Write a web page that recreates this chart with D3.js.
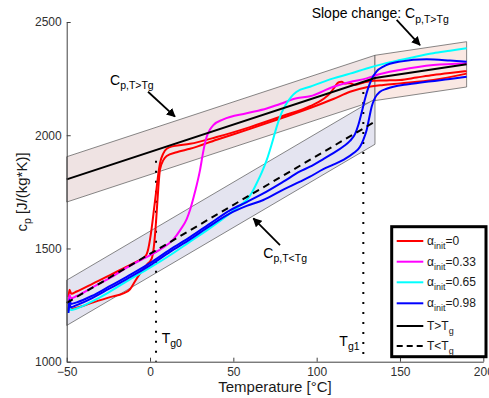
<!DOCTYPE html>
<html>
<head>
<meta charset="utf-8">
<script src="https://cdn.jsdelivr.net/npm/d3@7"></script>
<style>
  body { margin: 0; background: #fff; }
  svg { font-family: "Liberation Sans", Arial, sans-serif; }
</style>
</head>
<body>
<div id="chart"></div>
<script>
// measured curves [T, cp]
var red1 = [[-49,1285],[-48.3,1318],[-47.3,1300],[-44,1310],[-34,1346],[-24,1382],[-14,1420],[-8,1442],[-4,1458],[-2,1475],[-1,1500],[0,1540],[1,1590],[2.5,1680],[4,1770],[5,1830],[6,1877],[8,1920],[10,1940],[14,1952],[24,1962],[40,1992],[60,2036],[80,2086],[96,2128],[104,2160],[108,2185],[111,2215],[113,2233],[115,2236],[117,2228],[120,2230],[123,2222],[128,2232],[134,2241],[142,2242],[150,2244],[160,2255],[170,2266],[180,2275],[190,2283]];
var red2 = [[-49,1240],[-48,1232],[-44,1238],[-34,1262],[-24,1285],[-16,1302],[-12,1320],[-9,1355],[-5,1400],[-2,1428],[1,1455],[2,1490],[3,1560],[4,1660],[5,1770],[6,1850],[8,1890],[10,1908],[16,1925],[24,1940],[40,1980],[60,2028],[80,2078],[96,2120],[110,2160],[120,2192],[130,2212],[140,2222],[150,2229],[170,2244],[190,2272]];
var magenta = [[-49,1260],[-48.3,1295],[-47.5,1280],[-44,1290],[-34,1330],[-24,1370],[-14,1415],[-4,1455],[6,1495],[14,1540],[18,1580],[22,1630],[24,1670],[27,1750],[30,1846],[32,1930],[34,1993],[36,2025],[38,2045],[44,2070],[58,2097],[70,2118],[78,2138],[88,2163],[96,2172],[110,2214],[120,2235],[130,2251],[136,2266],[150,2288],[170,2310],[190,2317]];
var cyan = [[-49,1215],[-48.3,1245],[-47.5,1228],[-44,1235],[-35,1265],[-25,1305],[-14,1355],[0,1415],[12,1470],[24,1530],[36,1590],[48,1655],[54,1690],[58,1714],[61,1745],[64,1788],[67,1835],[70,1890],[73,1960],[76,2037],[79,2100],[82,2141],[85,2172],[88,2192],[96,2214],[110,2251],[120,2272],[130,2295],[140,2315],[150,2332],[160,2348],[170,2362],[180,2373],[190,2384]];
var blue1 = [[-49,1225],[-48.3,1275],[-47.5,1255],[-44,1262],[-35,1290],[-25,1330],[-14,1375],[0,1435],[12,1495],[24,1550],[36,1610],[48,1668],[58,1705],[68,1743],[80,1795],[90,1840],[96,1861],[104,1895],[110,1921],[116,1950],[120,1975],[123,2005],[125,2045],[127,2100],[129,2160],[131,2210],[133,2248],[136,2282],[140,2303],[150,2325],[166,2335],[180,2330],[190,2325]];
var blue2 = [[-49,1215],[-48.3,1255],[-47.5,1240],[-44,1250],[-35,1280],[-25,1320],[-14,1365],[0,1425],[12,1485],[24,1540],[36,1600],[48,1655],[58,1688],[68,1714],[80,1760],[90,1795],[96,1817],[104,1850],[110,1870],[116,1891],[122,1920],[126,1949],[128,1980],[130,2023],[131.5,2075],[133,2126],[135,2165],[138,2192],[142,2205],[146,2214],[155,2225],[166,2236],[180,2248],[190,2258]];

// fitted lines
var fitAbove = [[-50,1805],[135,2253]];
var fitSlope = [[135,2253],[190,2313]];
var fitBelow = [[-50,1260],[135,2060]];
var bandHalf = 100;

var tg = [3.6, 128];
var tgTop = [1887, 2191];
var tgNames = ["g0", "g1"];

var xTicks = [-50, 0, 50, 100, 150, 200];
var yTicks = [1000, 1500, 2000, 2500];

var legendColors = ["#ff0000", "#ff00ff", "#00ffff", "#0000ff", "#000000", "#000000"];
var legendMain = ["\u03b1", "\u03b1", "\u03b1", "\u03b1", "T>T", "T<T"];
var legendSub = ["init", "init", "init", "init", "g", "g"];
var legendTail = ["=0", "=0.33", "=0.65", "=0.98", "", ""];

var width = 489, height = 398;

var x = d3.scaleLinear().domain([-50, 200]).range([66.7, 483.3]);
var y = d3.scaleLinear().domain([1000, 2500]).range([361.7, 22]);

var svg = d3.select("#chart").append("svg")
    .attr("width", width)
    .attr("height", height);

var line = d3.line()
    .x(function (d) { return x(d[0]); })
    .y(function (d) { return y(d[1]); });
var smooth = d3.line()
    .x(function (d) { return x(d[0]); })
    .y(function (d) { return y(d[1]); })
    .curve(d3.curveMonotoneX);

function band(seg) {
    var a = seg[0], b = seg[1];
    return [[a[0], a[1] + bandHalf], [b[0], b[1] + bandHalf], [b[0], b[1] - bandHalf], [a[0], a[1] - bandHalf]];
}

// bands
svg.append("path").attr("d", line(band(fitAbove)) + "Z")
    .attr("fill", "#efe3e3").attr("stroke", "#555").attr("stroke-width", 0.7);
svg.append("path").attr("d", line(band(fitSlope)) + "Z")
    .attr("fill", "#fae8e3").attr("stroke", "#555").attr("stroke-width", 0.7);
svg.append("path").attr("d", line(band(fitBelow)) + "Z")
    .attr("fill", "#e4e4f0").attr("stroke", "#555").attr("stroke-width", 0.7);

// Tg dotted lines
tg.forEach(function (t, i) {
    svg.append("line")
        .attr("x1", x(t)).attr("x2", x(t))
        .attr("y1", y(tgTop[i])).attr("y2", y(1000))
        .attr("stroke", "#000").attr("stroke-width", 2)
        .attr("stroke-dasharray", "2,8");
});

// measured curves
var curves = [[red2, "#ff0000"], [red1, "#ff0000"], [magenta, "#ff00ff"], [cyan, "#00ffff"], [blue2, "#0000ff"], [blue1, "#0000ff"]];
curves.forEach(function (c) {
    svg.append("path").attr("d", smooth(c[0]))
        .attr("fill", "none").attr("stroke", c[1]).attr("stroke-width", 2);
});

// fit lines
svg.append("path").attr("d", line(fitAbove.concat([fitSlope[1]])))
    .attr("fill", "none").attr("stroke", "#000").attr("stroke-width", 2);
svg.append("path").attr("d", line(fitBelow))
    .attr("fill", "none").attr("stroke", "#000").attr("stroke-width", 2)
    .attr("stroke-dasharray", "7,5");

// axes
var fmt = d3.format("d");
var yAxis = d3.axisLeft(y).tickValues(yTicks).tickFormat(fmt).tickSizeInner(-4).tickSizeOuter(0).tickPadding(5);
var xAxis = d3.axisBottom(x).tickValues(xTicks).tickFormat(fmt).tickSizeInner(-4).tickSizeOuter(0).tickPadding(6);
var gy = svg.append("g").attr("transform", "translate(" + x(-50) + ",0)").call(yAxis);
var gx = svg.append("g").attr("transform", "translate(0," + y(1000) + ")").call(xAxis);
[gx, gy].forEach(function (g) {
    g.selectAll("path, line").attr("stroke", "#404040");
    g.selectAll("text").attr("font-size", 12).attr("fill", "#303030")
        .attr("font-family", "Liberation Sans, Arial, sans-serif");
});

// axis labels
svg.append("text").attr("x", 275).attr("y", 392).attr("text-anchor", "middle")
    .attr("font-size", 15).attr("fill", "#1a1a1a").text("Temperature [\u00b0C]");
var yl = svg.append("text").attr("transform", "translate(27,192) rotate(-90)")
    .attr("text-anchor", "middle").attr("font-size", 15).attr("fill", "#1a1a1a");
yl.append("tspan").text("c");
yl.append("tspan").attr("font-size", 10.5).attr("dy", 4).text("p");
yl.append("tspan").attr("dy", -4).text(" [J/(kg*K)]");

// annotations
function subText(px, py, main, sub, size, subSize) {
    var t = svg.append("text").attr("x", px).attr("y", py)
        .attr("font-size", size).attr("fill", "#000");
    t.append("tspan").text(main);
    t.append("tspan").attr("font-size", subSize).attr("dy", size * 0.3).text(sub);
    return t;
}
subText(x(-24), y(2222), "C", "p,T>Tg", 14, 10.5);
subText(x(97), y(2516), "Slope change: C", "p,T>Tg", 14, 10.5);
subText(x(68), y(1457), "C", "p,T<Tg", 14, 10.5);
subText(x(7), y(1083), "T", tgNames[0], 14, 10.5);
subText(x(113.6), y(1069), "T", tgNames[1], 14, 10.5);

svg.append("defs").append("marker")
    .attr("id", "ah").attr("viewBox", "0 0 10 10").attr("refX", 9).attr("refY", 5)
    .attr("markerWidth", 5).attr("markerHeight", 5).attr("orient", "auto")
    .append("path").attr("d", "M0,0L10,5L0,10Z").attr("fill", "#000");

var arrows = [[[-1.2, 2192], [15, 2082]], [[148, 2509], [162, 2398]], [[78, 1515], [62, 1633]]];
arrows.forEach(function (a) {
    svg.append("line")
        .attr("x1", x(a[0][0])).attr("y1", y(a[0][1]))
        .attr("x2", x(a[1][0])).attr("y2", y(a[1][1]))
        .attr("stroke", "#000").attr("stroke-width", 1.8)
        .attr("marker-end", "url(#ah)");
});

// legend
var lg = svg.append("g");
lg.append("rect").attr("x", 391.7).attr("y", 226.7).attr("width", 94.3).attr("height", 130)
    .attr("fill", "#fff").attr("stroke", "#000").attr("stroke-width", 3);
var rowY = [241, 261.7, 282.3, 303.3, 326, 346];
legendColors.forEach(function (c, i) {
    lg.append("line").attr("x1", 396.7).attr("x2", 423.3)
        .attr("y1", rowY[i]).attr("y2", rowY[i])
        .attr("stroke", c).attr("stroke-width", 2)
        .attr("stroke-dasharray", i === 5 ? "6,4" : null);
    var t = lg.append("text").attr("x", 427).attr("y", rowY[i] + 4)
        .attr("font-size", 12).attr("fill", "#1a1a1a");
    t.append("tspan").text(legendMain[i]);
    t.append("tspan").attr("font-size", 9).attr("dy", 4).text(legendSub[i]);
    if (legendTail[i]) t.append("tspan").attr("dy", -4).text(legendTail[i]);
});
</script>
</body>
</html>
